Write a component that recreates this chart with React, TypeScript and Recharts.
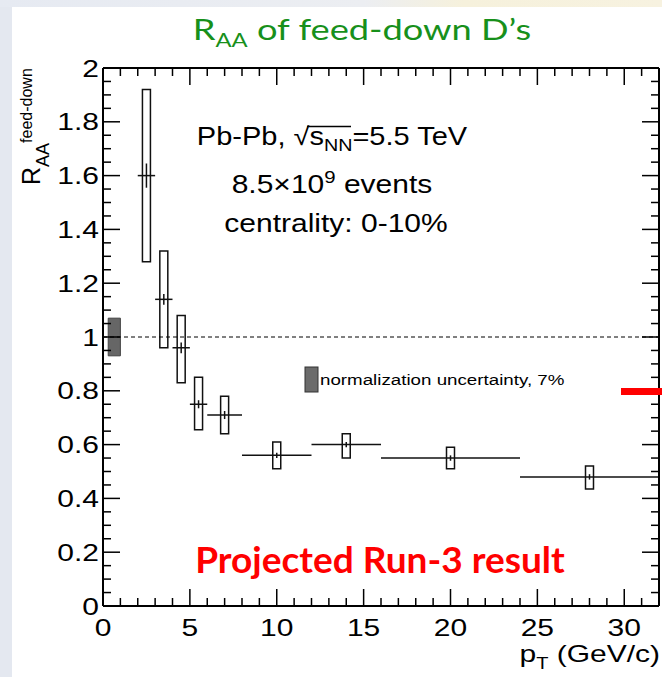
import React from 'react';
import { ScatterChart, Scatter, XAxis, YAxis, ErrorBar, ReferenceArea, ReferenceLine } from 'recharts';

const W = 662;
const H = 677;
const FONT = '"Liberation Sans", Arial, Helvetica, sans-serif';
const TFONT = 'Lato, "Open Sans", sans-serif';
const SX = 1.25;

// data
const ptCenter = [2.5, 3.5, 4.5, 5.5, 7, 10, 14, 20, 28];
const ptHalfBin = [0.5, 0.5, 0.5, 0.5, 1, 2, 2, 4, 4];
const raa = [1.6, 1.14, 0.96, 0.75, 0.71, 0.56, 0.6, 0.55, 0.48];
const statErr = [0.045, 0.02, 0.02, 0.015, 0.015, 0.01, 0.01, 0.01, 0.01];
const sysLow = [1.28, 0.96, 0.83, 0.655, 0.64, 0.51, 0.55, 0.51, 0.435];
const sysHigh = [1.92, 1.32, 1.08, 0.85, 0.78, 0.61, 0.64, 0.59, 0.52];
const sysHalfWidth = 0.23;

const normCenter = 1;
const normUnc = 0.07;
const normBoxX = [0.3, 1.0];

const xTicks = [0, 1, 2, 3, 4, 5, 6, 7, 8, 9, 10, 11, 12, 13, 14, 15, 16, 17, 18, 19, 20, 21, 22, 23, 24, 25, 26, 27, 28, 29, 30, 31, 32];
const xLabels = [0, 5, 10, 15, 20, 25, 30];
const yTicks = [0, 0.05, 0.1, 0.15, 0.2, 0.25, 0.3, 0.35, 0.4, 0.45, 0.5, 0.55, 0.6, 0.65, 0.7, 0.75, 0.8, 0.85, 0.9, 0.95, 1, 1.05, 1.1, 1.15, 1.2, 1.25, 1.3, 1.35, 1.4, 1.45, 1.5, 1.55, 1.6, 1.65, 1.7, 1.75, 1.8, 1.85, 1.9, 1.95, 2];
const yLabels = [0, 0.2, 0.4, 0.6, 0.8, 1, 1.2, 1.4, 1.6, 1.8, 2];

const points = ptCenter.map((x, i) => ({ x, y: raa[i], xerr: ptHalfBin[i], yerr: statErr[i] }));

const MAJ = 17;
const MIN = 8;
const TW = 1.5;

const isX = (v: number) => xLabels.indexOf(v) >= 0;
const isY = (v: number) => yLabels.indexOf(v) >= 0;

const BottomTick = (p: any) => {
  const v = p.payload.value;
  const m = isX(v);
  return (
    <g>
      <line x1={p.x} x2={p.x} y1={p.y} y2={p.y - (m ? MAJ : MIN)} stroke="#000" strokeWidth={TW} />
      {m && (
        <text transform={`translate(${p.x},${p.y + 30}) scale(${SX},1)`} textAnchor="middle" fontSize={24} fontFamily={FONT} fill="#000">
          {v}
        </text>
      )}
    </g>
  );
};
const TopTick = (p: any) => {
  const v = p.payload.value;
  const m = isX(v);
  return <line x1={p.x} x2={p.x} y1={p.y} y2={p.y + (m ? MAJ : MIN)} stroke="#000" strokeWidth={TW} />;
};
const LeftTick = (p: any) => {
  const v = p.payload.value;
  const m = isY(v);
  return (
    <g>
      <line x1={p.x} x2={p.x + (m ? MAJ : MIN)} y1={p.y} y2={p.y} stroke="#000" strokeWidth={TW} />
      {m && (
        <text transform={`translate(${p.x - 4},${p.y + 8.5}) scale(${SX},1)`} textAnchor="end" fontSize={24} fontFamily={FONT} fill="#000">
          {String(v)}
        </text>
      )}
    </g>
  );
};
const RightTick = (p: any) => {
  const v = p.payload.value;
  const m = isY(v);
  return <line x1={p.x} x2={p.x - (m ? MAJ : MIN)} y1={p.y} y2={p.y} stroke="#000" strokeWidth={TW} />;
};

const axisLine = { stroke: '#000', strokeWidth: 2 };

export default function App() {
  return (
    <div style={{ position: 'absolute', left: 0, top: 0, width: W, height: H, background: '#e4e8f0', overflow: 'hidden' }}>
      <div style={{ position: 'absolute', left: 0, top: 0, width: W, height: 7, background: 'linear-gradient(90deg, #e6eaf2 0%, #eceef2 55%, #f6f1dc 70%, #f7f2e0 100%)' }} />
      <div style={{ position: 'absolute', left: 12, top: 7, width: W - 12, height: H - 7, background: '#ffffff' }} />
      <div style={{ position: 'absolute', left: 0, top: 0 }}>
        <ScatterChart width={W} height={H} margin={{ top: 67, right: 2, bottom: 70, left: 102 }}>
          <XAxis xAxisId={0} type="number" dataKey="x" domain={[0, 32]} allowDataOverflow ticks={xTicks} interval={0} height={1} tickSize={0} tickMargin={0} tickLine={false} axisLine={axisLine} tick={(p: any) => <BottomTick {...p} />} />
          <XAxis xAxisId="top" orientation="top" type="number" dataKey="x" domain={[0, 32]} allowDataOverflow ticks={xTicks} interval={0} height={1} tickSize={0} tickMargin={0} tickLine={false} axisLine={axisLine} tick={(p: any) => <TopTick {...p} />} />
          <YAxis yAxisId={0} type="number" dataKey="y" domain={[0, 2]} allowDataOverflow ticks={yTicks} interval={0} width={1} tickSize={0} tickMargin={0} tickLine={false} axisLine={axisLine} tick={(p: any) => <LeftTick {...p} />} />
          <YAxis yAxisId="right" orientation="right" type="number" dataKey="y" domain={[0, 2]} allowDataOverflow ticks={yTicks} interval={0} width={1} tickSize={0} tickMargin={0} tickLine={false} axisLine={axisLine} tick={(p: any) => <RightTick {...p} />} />
          <ReferenceLine xAxisId={0} yAxisId={0} y={1} stroke="#000" strokeWidth={1} strokeDasharray="4 3" />
          <ReferenceArea xAxisId={0} yAxisId={0} x1={normBoxX[0]} x2={normBoxX[1]} y1={normCenter - normUnc} y2={normCenter + normUnc} fill="#666666" fillOpacity={1} stroke="#444" strokeWidth={1} ifOverflow="visible" />
          {ptCenter.map((c, i) => (
            <ReferenceArea key={i} xAxisId={0} yAxisId={0} x1={c - sysHalfWidth} x2={c + sysHalfWidth} y1={sysLow[i]} y2={sysHigh[i]} fill="none" stroke="#111" strokeWidth={1.5} ifOverflow="visible" />
          ))}
          <Scatter xAxisId={0} yAxisId={0} data={points} isAnimationActive={false} shape={() => <g />}>
            <ErrorBar dataKey="xerr" direction="x" width={0} stroke="#111" strokeWidth={1.5} isAnimationActive={false} />
            <ErrorBar dataKey="yerr" direction="y" width={0} stroke="#111" strokeWidth={1.5} isAnimationActive={false} />
          </Scatter>
        </ScatterChart>
      </div>
      <svg width={W} height={H} style={{ position: 'absolute', left: 0, top: 0, pointerEvents: 'none' }}>
        <text transform={`translate(362,40) scale(1.25,1)`} textAnchor="middle" fontFamily={TFONT} fontSize={29} fill="#17901b">
          R<tspan fontSize={19} dy={7}>AA</tspan>
          <tspan dy={-7}> of feed-down D’s</tspan>
        </text>
        <text transform={`translate(40,185) rotate(-90)`} fontFamily={FONT} fontSize={25} fill="#000">
          R<tspan fontSize={18} dy={9}>AA</tspan>
          <tspan fontSize={16} dy={-17}>feed-down</tspan>
        </text>
        <text transform={`translate(660,662) scale(${SX},1)`} textAnchor="end" fontFamily={FONT} fontSize={24} fill="#000">
          p<tspan fontSize={16} dy={7}>T</tspan>
          <tspan dy={-7}> (GeV/c)</tspan>
        </text>
        <text transform={`translate(332,145) scale(1.16,1)`} textAnchor="middle" fontFamily={FONT} fontSize={25} fill="#000">
          Pb-Pb, √s<tspan fontSize={17} dy={6}>NN</tspan>
          <tspan dy={-6}>=5.5 TeV</tspan>
        </text>
        <line x1={307} x2={351} y1={126.5} y2={126.5} stroke="#000" strokeWidth={1.4} />
        <text transform={`translate(332,193) scale(1.2,1)`} textAnchor="middle" fontFamily={FONT} fontSize={25} fill="#000">
          8.5×10<tspan fontSize={17} dy={-10}>9</tspan>
          <tspan dy={10}> events</tspan>
        </text>
        <text transform={`translate(336,232) scale(1.2,1)`} textAnchor="middle" fontFamily={FONT} fontSize={25} fill="#000">
          centrality: 0-10%
        </text>
        <rect x={305} y={367} width={13} height={25} fill="#6b6b6b" stroke="#333" strokeWidth={1} />
        <text transform={`translate(320,385) scale(${SX},1)`} fontFamily={FONT} fontSize={15} fill="#000">
          normalization uncertainty, 7%
        </text>
        <rect x={621} y={388} width={41} height={7} fill="#ff0000" />
        <text x={380} y={573} textAnchor="middle" fontFamily={TFONT} fontWeight={700} fontSize={37} fill="#ff0000">
          Projected Run-3 result
        </text>
      </svg>
    </div>
  );
}
